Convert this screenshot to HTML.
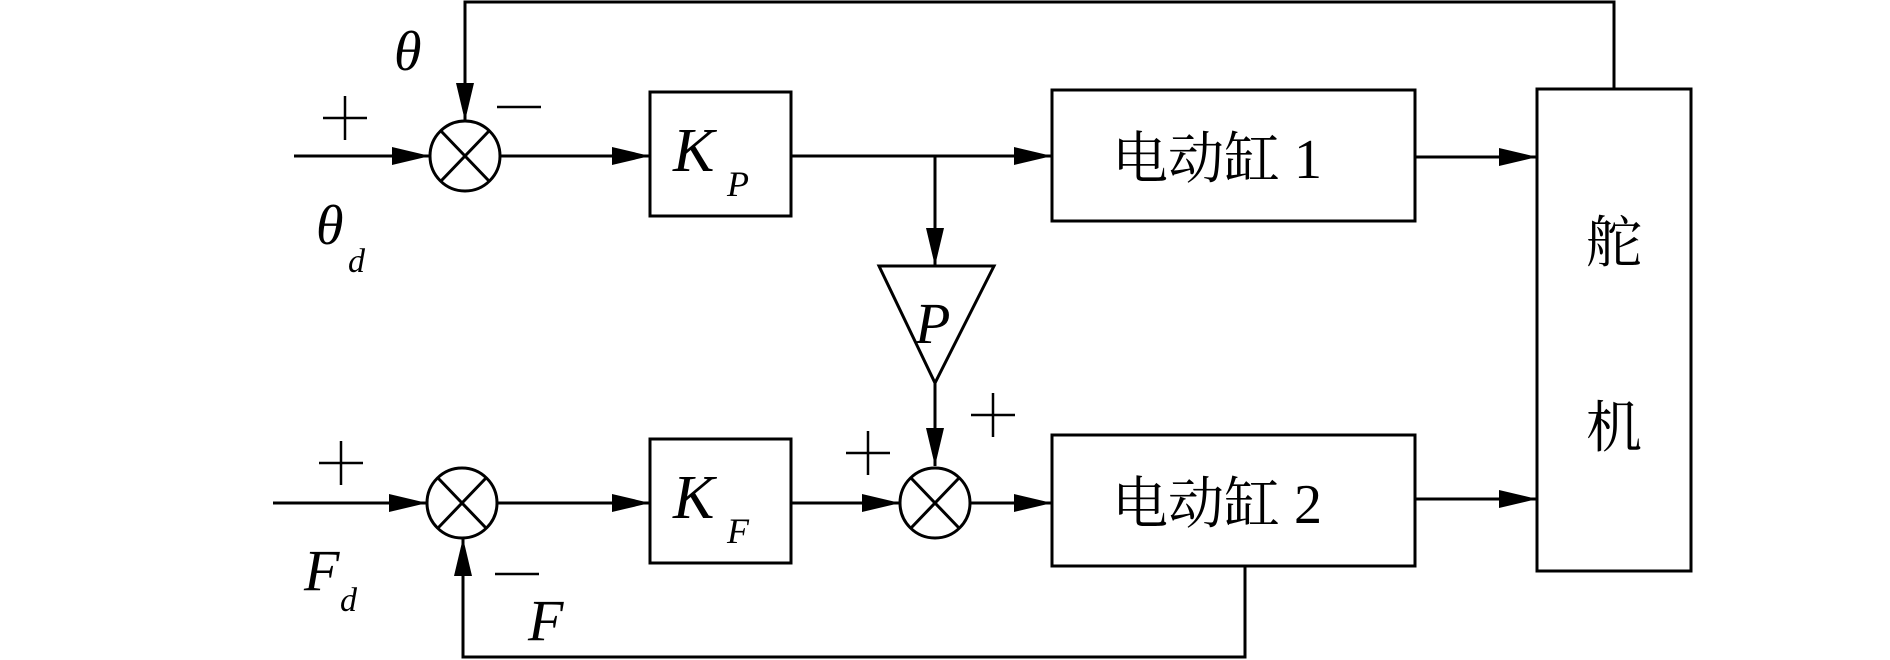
<!DOCTYPE html>
<html><head><meta charset="utf-8"><style>html,body{margin:0;padding:0;background:#fff}svg{display:block}</style></head><body>
<svg width="1890" height="660" viewBox="0 0 1890 660" xmlns="http://www.w3.org/2000/svg">
<defs>
<marker id="a" markerWidth="38" markerHeight="18" refX="38" refY="9" orient="auto" markerUnits="userSpaceOnUse"><path d="M0,0 L38,9 L0,18 Z" fill="#000"/></marker>
</defs>
<g stroke="#000" stroke-width="3" fill="none">
<!-- top feedback -->
<polyline points="1614,89 1614,2 465,2 465,121" marker-end="url(#a)"/>
<!-- row 1 -->
<line x1="294" y1="156" x2="430" y2="156" marker-end="url(#a)"/>
<ellipse cx="465" cy="156" rx="35" ry="35"/>
<line x1="441" y1="131" x2="489" y2="181"/><line x1="489" y1="131" x2="441" y2="181"/>
<line x1="500" y1="156" x2="650" y2="156" marker-end="url(#a)"/>
<rect x="650" y="92" width="141" height="124"/>
<line x1="791" y1="156" x2="1052" y2="156" marker-end="url(#a)"/>
<rect x="1052" y="90" width="363" height="131"/>
<line x1="1415" y1="157" x2="1537" y2="157" marker-end="url(#a)"/>
<!-- branch -->
<line x1="935" y1="156" x2="935" y2="266" marker-end="url(#a)"/>
<polygon points="879,266 994,266 935,383"/>
<line x1="935" y1="383" x2="935" y2="466" marker-end="url(#a)"/>
<!-- row 2 -->
<line x1="273" y1="503" x2="427" y2="503" marker-end="url(#a)"/>
<ellipse cx="462" cy="503" rx="35" ry="35"/>
<line x1="438" y1="478" x2="486" y2="528"/><line x1="486" y1="478" x2="438" y2="528"/>
<line x1="497" y1="503" x2="650" y2="503" marker-end="url(#a)"/>
<rect x="650" y="439" width="141" height="124"/>
<line x1="791" y1="503" x2="900" y2="503" marker-end="url(#a)"/>
<ellipse cx="935" cy="503" rx="35" ry="35"/>
<line x1="911" y1="478" x2="959" y2="528"/><line x1="959" y1="478" x2="911" y2="528"/>
<line x1="970" y1="503" x2="1052" y2="503" marker-end="url(#a)"/>
<rect x="1052" y="435" width="363" height="131"/>
<line x1="1415" y1="499" x2="1537" y2="499" marker-end="url(#a)"/>
<!-- bottom feedback -->
<polyline points="1245,566 1245,657 463,657 463,538" marker-end="url(#a)"/>
<!-- rudder box -->
<rect x="1537" y="89" width="154" height="482"/>
</g>
<g stroke="#000" stroke-width="2.5">
<!-- plus/minus signs -->
<line x1="323" y1="118" x2="367" y2="118"/><line x1="345" y1="96" x2="345" y2="140"/>
<line x1="497" y1="107" x2="541" y2="107"/>
<line x1="319" y1="463" x2="363" y2="463"/><line x1="341" y1="441" x2="341" y2="485"/>
<line x1="846" y1="453" x2="890" y2="453"/><line x1="868" y1="431" x2="868" y2="475"/>
<line x1="971" y1="415" x2="1015" y2="415"/><line x1="993" y1="393" x2="993" y2="437"/>
<line x1="495" y1="574" x2="539" y2="574"/>
</g>
<g font-family="Liberation Serif, serif" font-style="italic" fill="#000">
<text x="394" y="70" font-size="56">θ</text>
<text x="316" y="244" font-size="56">θ</text><text x="348" y="272" font-size="34">d</text>
<text x="673" y="171" font-size="62">K</text><text x="727" y="196" font-size="36">P</text>
<text x="673" y="518" font-size="62">K</text><text x="727" y="543" font-size="36">F</text>
<text x="915" y="343" font-size="58">P</text>
<text x="304" y="590" font-size="58">F</text><text x="340" y="611" font-size="34">d</text>
<text x="528" y="640" font-size="58">F</text>
</g>
<g font-family="Liberation Serif, 'Noto Serif CJK SC', serif" fill="#000" font-size="56">
<text x="1112" y="178">电动缸 1</text>
<text x="1112" y="523">电动缸 2</text>
<text x="1586" y="262">舵</text>
<text x="1586" y="447">机</text>
</g>
</svg>
</body></html>
